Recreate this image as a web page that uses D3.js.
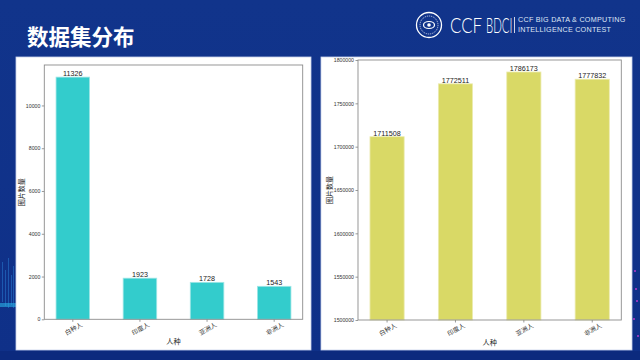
<!DOCTYPE html>
<html>
<head>
<meta charset="utf-8">
<script src="https://cdn.jsdelivr.net/npm/d3@7"></script>
<style>
  html, body { margin: 0; padding: 0; background: #10338a; }
  svg { display: block; }
</style>
</head>
<body>
<svg id="chart" width="640" height="360"></svg>
<script>
// ---- data ----
const categories = ["白种人", "印度人", "亚洲人", "非洲人"];
const imageCounts = [11326, 1923, 1728, 1543];
const pixelCounts = [1711508, 1772511, 1786173, 1777832];
const leftTicks = [0, 2000, 4000, 6000, 8000, 10000];
const rightTicks = [1500000, 1550000, 1600000, 1650000, 1700000, 1750000, 1800000];
const titleText = "数据集分布";
const xLabel = "人种";
const yLabel = "图片数量";

const svg = d3.select("#chart");
const W = 640, H = 360;
const cjk = "'Noto Sans CJK SC', 'Noto Sans', sans-serif";
const num = "'Liberation Sans', Arial, sans-serif";

// background
const defs = svg.append("defs");
const bg = defs.append("linearGradient").attr("id", "bg").attr("x1", 0).attr("y1", 0).attr("x2", 0).attr("y2", 1);
bg.append("stop").attr("offset", "0%").attr("stop-color", "#11348b");
bg.append("stop").attr("offset", "100%").attr("stop-color", "#0f3088");
svg.append("rect").attr("width", W).attr("height", H).attr("fill", "url(#bg)");
svg.append("rect").attr("x", 0).attr("y", 351).attr("width", W).attr("height", 9).attr("fill", "#0c2a7e");

// side decorations (background texture)
const deco = svg.append("g");
[[2, 262, 40], [5, 270, 36], [8, 258, 50], [11, 275, 30], [13, 266, 42]].forEach(([x, y, h]) => {
  deco.append("rect").attr("x", x).attr("y", y).attr("width", 1).attr("height", h).attr("fill", "#2a7fd6").attr("opacity", 0.5);
});
deco.append("rect").attr("x", 0).attr("y", 303).attr("width", 16).attr("height", 4).attr("fill", "#2ab0e6").attr("opacity", 0.6);
[[634, 270], [636, 300], [633, 318], [637, 335], [635, 288]].forEach(([x, y]) => {
  deco.append("rect").attr("x", x).attr("y", y).attr("width", 2).attr("height", 2).attr("fill", "#c23ad0").attr("opacity", 0.7);
});

// title
svg.append("text").attr("x", 27).attr("y", 45)
  .attr("font-family", cjk).attr("font-weight", 700).attr("font-size", 21.5)
  .attr("fill", "#ffffff").text(titleText);

// logo
const logo = svg.append("g");
logo.append("circle").attr("cx", 429).attr("cy", 25).attr("r", 12.5).attr("fill", "none").attr("stroke", "#ffffff").attr("stroke-width", 1.3);
logo.append("circle").attr("cx", 429).attr("cy", 25).attr("r", 9).attr("fill", "none").attr("stroke", "#dfe6f5").attr("stroke-width", 0.8).attr("stroke-dasharray", "1.2 0.8");
logo.append("ellipse").attr("cx", 429).attr("cy", 25).attr("rx", 5.5).attr("ry", 3.5).attr("fill", "none").attr("stroke", "#ffffff").attr("stroke-width", 1.2);
logo.append("circle").attr("cx", 429).attr("cy", 25).attr("r", 1.8).attr("fill", "#ffffff");
logo.append("text").attr("transform", "translate(450,32.5) scale(0.8,1)")
  .attr("font-family", "Lato, 'Open Sans', sans-serif").attr("font-weight", 300)
  .attr("font-size", 21).attr("fill", "#ffffff").text("CCF");
logo.append("text").attr("transform", "translate(486,32.5) scale(0.54,1)")
  .attr("font-family", "Lato, 'Open Sans', sans-serif").attr("font-weight", 300)
  .attr("font-size", 21).attr("fill", "#ffffff").text("BDCI");
logo.append("line").attr("x1", 514.5).attr("x2", 514.5).attr("y1", 17).attr("y2", 33).attr("stroke", "#ffffff").attr("stroke-width", 0.8);
logo.append("text").attr("x", 518).attr("y", 22.3).attr("font-family", num).attr("font-size", 7.2)
  .attr("letter-spacing", 0.25).attr("fill", "#dfe6f5").text("CCF BIG DATA & COMPUTING");
logo.append("text").attr("x", 518).attr("y", 32).attr("font-family", num).attr("font-size", 7.2)
  .attr("letter-spacing", 0.25).attr("fill", "#dfe6f5").text("INTELLIGENCE CONTEST");

// panel drawing helper
function drawPanel(opt) {
  const g = svg.append("g");
  g.append("rect").attr("x", opt.panel[0]).attr("y", opt.panel[1])
    .attr("width", opt.panel[2]).attr("height", opt.panel[3])
    .attr("fill", "#ffffff").attr("stroke", "#c9d3ec").attr("stroke-width", 0.8);

  const [x0, y0, x1, y1] = opt.plot;
  const x = d3.scaleBand().domain(categories).range([x0, x1]).paddingInner(0.5).paddingOuter(0.175);
  const y = d3.scaleLinear().domain(opt.domain).range([y1, y0]);

  // bars
  g.selectAll("rect.bar").data(opt.values).enter().append("rect")
    .attr("class", "bar")
    .attr("x", (d, i) => x(categories[i]))
    .attr("y", d => y(d))
    .attr("width", x.bandwidth())
    .attr("height", d => y1 - y(d))
    .attr("fill", opt.color)
    .attr("stroke", opt.edge).attr("stroke-width", 0.8);

  // value labels
  g.selectAll("text.val").data(opt.values).enter().append("text")
    .attr("class", "val")
    .attr("x", (d, i) => x(categories[i]) + x.bandwidth() / 2)
    .attr("y", d => y(d) - 1)
    .attr("text-anchor", "middle")
    .attr("font-family", num).attr("font-size", 7.2).attr("fill", "#222")
    .text(d => d);

  // y axis
  const yAxis = d3.axisLeft(y).tickValues(opt.ticks).tickSize(2.5).tickPadding(1.5).tickFormat(d3.format("d"));
  const ya = g.append("g").attr("transform", `translate(${x0},0)`).call(yAxis);
  ya.select(".domain").remove();
  ya.selectAll(".tick line").attr("stroke", "#555").attr("stroke-width", 0.6);
  ya.selectAll(".tick text").attr("font-family", num).attr("font-size", 5.2).attr("fill", "#333");

  // x axis
  const xAxis = d3.axisBottom(x).tickSize(2.5).tickPadding(0).tickFormat(() => "");
  const xa = g.append("g").attr("transform", `translate(0,${y1})`).call(xAxis);
  xa.select(".domain").remove();
  xa.selectAll(".tick line").attr("stroke", "#555").attr("stroke-width", 0.6);
  categories.forEach(c => {
    const cx = x(c) + x.bandwidth() / 2 + 1;
    const cy = y1 + 10;
    g.append("text").attr("x", cx).attr("y", cy)
      .attr("transform", `rotate(-30,${cx},${cy})`)
      .attr("text-anchor", "middle").attr("dominant-baseline", "middle")
      .attr("font-family", cjk).attr("font-size", 6.3).attr("fill", "#333").text(c);
  });

  // frame
  g.append("rect").attr("x", x0).attr("y", y0).attr("width", x1 - x0).attr("height", y1 - y0)
    .attr("fill", "none").attr("stroke", "#8c8c8c").attr("stroke-width", 0.9);

  // axis titles
  g.append("text").attr("x", (x0 + x1) / 2).attr("y", y1 + 25)
    .attr("text-anchor", "middle").attr("font-family", cjk).attr("font-size", 7.2)
    .attr("fill", "#222").text(xLabel);
  g.append("text").attr("transform", `translate(${opt.ylabX},${(y0 + y1) / 2}) rotate(-90)`)
    .attr("text-anchor", "middle").attr("dominant-baseline", "middle")
    .attr("font-family", cjk).attr("font-size", 7).attr("fill", "#222").text(yLabel);
}

drawPanel({
  panel: [16, 57, 295, 293],
  plot: [44.3, 65, 302.7, 319.3],
  values: imageCounts,
  domain: [0, d3.max(imageCounts) * 1.05],
  ticks: leftTicks,
  color: "#33cccc",
  edge: "#9fe6e6",
  ylabX: 22.5
});

drawPanel({
  panel: [321, 57, 311, 293],
  plot: [358, 60, 621.3, 320],
  values: pixelCounts,
  domain: [1500000, 1800000],
  ticks: rightTicks,
  color: "#d9d966",
  edge: "#ecebb0",
  ylabX: 329.7
});
</script>
</body>
</html>
